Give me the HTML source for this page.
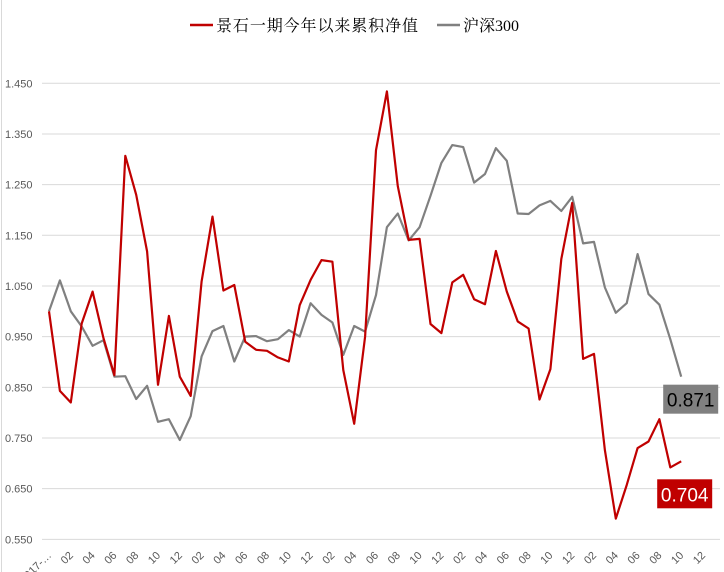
<!DOCTYPE html>
<html><head><meta charset="utf-8"><style>
html,body{margin:0;padding:0;background:#fff;}
svg{display:block;}
</style></head><body>
<svg id="chart" width="724" height="572" xmlns="http://www.w3.org/2000/svg">
<rect x="0" y="0" width="724" height="572" fill="#fff"/>
<line x1="1.5" y1="0" x2="1.5" y2="572" stroke="#d9d9d9"/>
<g>
<line x1="190" y1="25" x2="213" y2="25" stroke="#c00000" stroke-width="2.5"/>
<text x="216" y="31" font-size="16" fill="#000" font-family="'Liberation Serif','Noto Serif CJK SC',serif" textLength="202">景石一期今年以来累积净值</text>
<line x1="437" y1="25" x2="460" y2="25" stroke="#808080" stroke-width="2.5"/>
<text x="463" y="31" font-size="16" fill="#000" font-family="'Liberation Serif','Noto Serif CJK SC',serif">沪深300</text>
</g>
<g id="grid"></g><g id="ylab"></g><g id="xlab"></g><g id="series"></g><g id="endlabels"></g>
</svg>
<script>
const yTicks = [0.55,0.65,0.75,0.85,0.95,1.05,1.15,1.25,1.35,1.45];
const monthLabels = ["2017-…","02","04","06","08","10","12","02","04","06","08","10","12","02","04","06","08","10","12","02","04","06","08","10","12","02","04","06","08","10","12"];
const fundValues = [1.000,0.843,0.820,0.976,1.039,0.947,0.874,1.307,1.230,1.118,0.855,0.991,0.871,0.833,1.059,1.187,1.041,1.052,0.940,0.924,0.922,0.909,0.901,1.012,1.062,1.101,1.098,0.884,0.778,0.950,1.318,1.434,1.247,1.141,1.143,0.975,0.957,1.057,1.072,1.024,1.014,1.119,1.039,0.980,0.966,0.826,0.886,1.103,1.214,0.906,0.916,0.726,0.591,0.657,0.730,0.743,0.787,0.692,0.704];
const csiValues = [1.000,1.061,1.000,0.970,0.932,0.943,0.871,0.872,0.827,0.853,0.782,0.787,0.746,0.793,0.911,0.961,0.971,0.901,0.950,0.951,0.941,0.945,0.963,0.950,1.016,0.993,0.978,0.914,0.971,0.960,1.032,1.166,1.193,1.140,1.166,1.228,1.293,1.328,1.324,1.254,1.271,1.322,1.297,1.193,1.192,1.209,1.218,1.198,1.226,1.134,1.137,1.047,0.997,1.016,1.113,1.034,1.013,0.945,0.871];
const fundEndLabel = "0.704";
const csiEndLabel = "0.871";

const NS="http://www.w3.org/2000/svg";
const X0=49, DX=10.9, Y0=83.3, YPX=506.7;
const yScale=v=>Y0+(1.45-v)*YPX;
const xScale=i=>X0+i*DX;
const mk=(t,a,p)=>{const e=document.createElementNS(NS,t);for(const k in a)e.setAttribute(k,a[k]);p.appendChild(e);return e;};
const grid=document.getElementById('grid'),ylab=document.getElementById('ylab'),xlab=document.getElementById('xlab'),series=document.getElementById('series'),endl=document.getElementById('endlabels');
yTicks.forEach(v=>{
  const y=yScale(v);
  const l=mk('line',{x1:42,x2:720,y1:y,y2:y,stroke:'#d9d9d9','stroke-width':1},grid);
  
  
  const t=mk('text',{x:5,y:y+4,'font-size':11,fill:'#595959','font-family':"'Liberation Sans',sans-serif"},ylab);
  
  
  t.textContent=v.toFixed(3);
});
monthLabels.forEach((s,k)=>{
  const x=xScale(k*2)+3;
  const t=mk('text',{x:x,y:556,'font-size':11,fill:'#595959','text-anchor':'end','font-family':"'Liberation Sans',sans-serif",transform:`rotate(-45 ${x} 556)`},xlab);
  
  
  t.textContent=s;
});
function line(vals,color,name){
  const d=vals.map((v,i)=>(i?'L':'M')+xScale(i).toFixed(1)+' '+yScale(v).toFixed(1)).join(' ');
  const p=mk('path',{d:d,fill:'none',stroke:color,'stroke-width':2.2,'stroke-linejoin':'round'},series);
  
  
}
line(csiValues,'#808080','csi300-line');
line(fundValues,'#c00000','fund-nav-line');
function endBox(vals,txt,bg,fg,dx,dy,name){
  const i=vals.length-1, x=xScale(i)+dx, y=yScale(vals[i])+dy;
  const r=mk('rect',{x:x,y:y,width:55,height:29,fill:bg},endl);
  
  
  const t=mk('text',{x:x+27.5,y:y+22,'font-size':19,fill:fg,'text-anchor':'middle','font-family':"'Liberation Sans',sans-serif"},endl);
  
  
  t.textContent=txt;
}
endBox(csiValues,csiEndLabel,'#808080','#000',-18,8,'csi300-end-label');
endBox(fundValues,fundEndLabel,'#c00000','#fff',-24,18,'fund-end-label');
</script>
</body></html>
